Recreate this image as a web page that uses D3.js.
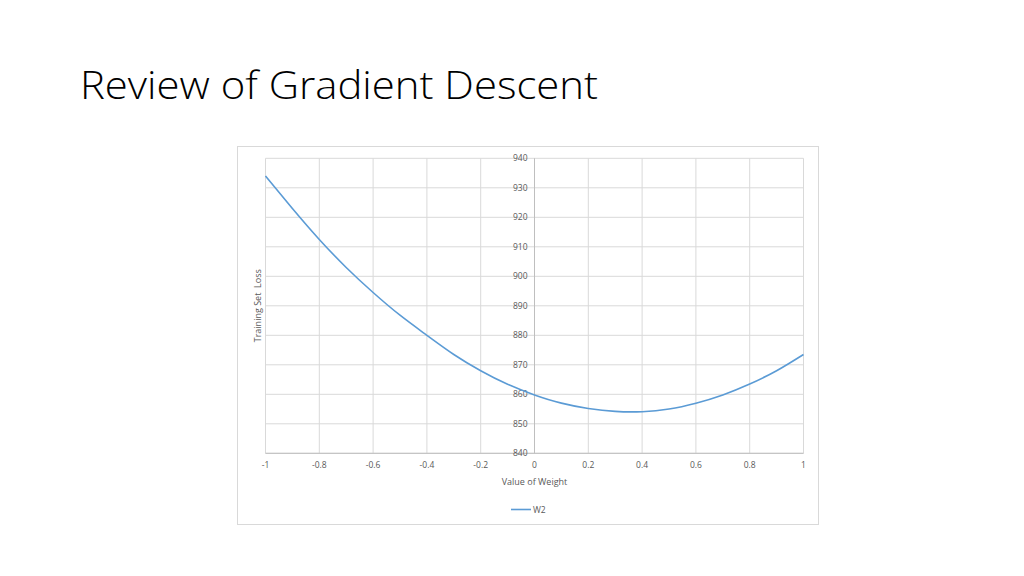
<!DOCTYPE html>
<html>
<head>
<meta charset="utf-8">
<script src="https://cdn.jsdelivr.net/npm/d3@7"></script>
<style>
  body { margin: 0; background: #fff; }
  svg { display: block; }
</style>
</head>
<body>
<div id="slide"></div>
<script>
const width = 1024;
const height = 576;

// weight values and training set loss
const weights = [-1, -0.9, -0.8, -0.7, -0.6, -0.5, -0.4, -0.3, -0.2, -0.1, 0,
  0.1, 0.2, 0.3, 0.4, 0.5, 0.6, 0.7, 0.8, 0.9, 1];
const loss = [934, 923, 912.5, 903, 894.5, 886.8, 880, 873.5, 868, 863.4, 859.8,
  857, 855.2, 854.2, 854.1, 855, 857, 859.8, 863.5, 868, 873.5];
const xTicks = [-1, -0.8, -0.6, -0.4, -0.2, 0, 0.2, 0.4, 0.6, 0.8, 1];
const yTicks = [840, 850, 860, 870, 880, 890, 900, 910, 920, 930, 940];

const font = 'Open Sans, sans-serif';
const grey = '#595959';

const svg = d3.select('#slide')
  .append('svg')
  .attr('width', width)
  .attr('height', height);

svg.append('text')
  .attr('x', 80)
  .attr('y', 99)
  .attr('font-family', font)
  .attr('font-weight', 300)
  .attr('font-size', 38)
  .attr('textLength', 518)
  .attr('lengthAdjust', 'spacingAndGlyphs')
  .attr('fill', '#000')
  .text('Review of Gradient Descent');

// chart frame
svg.append('rect')
  .attr('x', 237.5)
  .attr('y', 146.5)
  .attr('width', 581)
  .attr('height', 378)
  .attr('fill', '#fff')
  .attr('stroke', '#d9d9d9');

const xScale = d3.scaleLinear().domain([-1, 1]).range([265.5, 803.5]);
const yScale = d3.scaleLinear().domain([840, 940]).range([453.3, 158.3]);

// grid
svg.append('g')
  .selectAll('line').data(xTicks)
  .enter().append('line')
  .attr('x1', d => xScale(d)).attr('x2', d => xScale(d))
  .attr('y1', yScale(940)).attr('y2', yScale(840))
  .attr('stroke', '#d9d9d9').attr('stroke-width', 1);

svg.append('g')
  .selectAll('line').data(yTicks)
  .enter().append('line')
  .attr('x1', xScale(-1)).attr('x2', xScale(1))
  .attr('y1', d => yScale(d)).attr('y2', d => yScale(d))
  .attr('stroke', '#d9d9d9').attr('stroke-width', 1);

// axes lines
svg.append('line')
  .attr('x1', xScale(-1)).attr('x2', xScale(1))
  .attr('y1', yScale(840)).attr('y2', yScale(840))
  .attr('stroke', '#bfbfbf');

svg.append('line')
  .attr('x1', xScale(0)).attr('x2', xScale(0))
  .attr('y1', yScale(940)).attr('y2', yScale(840))
  .attr('stroke', '#bfbfbf');

// y tick labels, beside the y axis at x = 0
svg.append('g')
  .selectAll('text').data(yTicks)
  .enter().append('text')
  .attr('x', xScale(0) - 7)
  .attr('y', d => yScale(d) + 3)
  .attr('text-anchor', 'end')
  .attr('font-family', font)
  .attr('font-size', 8.5)
  .attr('fill', grey)
  .text(d => d);

// x tick labels
svg.append('g')
  .selectAll('text').data(xTicks)
  .enter().append('text')
  .attr('x', d => xScale(d))
  .attr('y', yScale(840) + 15)
  .attr('text-anchor', 'middle')
  .attr('font-family', font)
  .attr('font-size', 8.5)
  .attr('fill', grey)
  .text(d => String(d));

// axis titles
svg.append('text')
  .attr('x', xScale(0))
  .attr('y', 485)
  .attr('text-anchor', 'middle')
  .attr('font-family', font)
  .attr('font-size', 9)
  .attr('fill', grey)
  .text('Value of Weight');

svg.append('text')
  .attr('transform', `translate(261, ${yScale(890)}) rotate(-90)`)
  .attr('text-anchor', 'middle')
  .attr('font-family', font)
  .attr('font-size', 9)
  .attr('fill', grey)
  .attr('xml:space', 'preserve')
  .text('Training Set  Loss');

// the loss curve
const line = d3.line()
  .x((d, i) => xScale(weights[i]))
  .y(d => yScale(d))
  .curve(d3.curveNatural);

svg.append('path')
  .datum(loss)
  .attr('d', line)
  .attr('fill', 'none')
  .attr('stroke', '#5b9bd5')
  .attr('stroke-width', 1.6);

// legend
svg.append('line')
  .attr('x1', 511).attr('x2', 531)
  .attr('y1', 509.5).attr('y2', 509.5)
  .attr('stroke', '#5b9bd5')
  .attr('stroke-width', 1.6);

svg.append('text')
  .attr('x', 533)
  .attr('y', 512.5)
  .attr('font-family', font)
  .attr('font-size', 8.5)
  .attr('fill', grey)
  .text('W2');
</script>
</body>
</html>
